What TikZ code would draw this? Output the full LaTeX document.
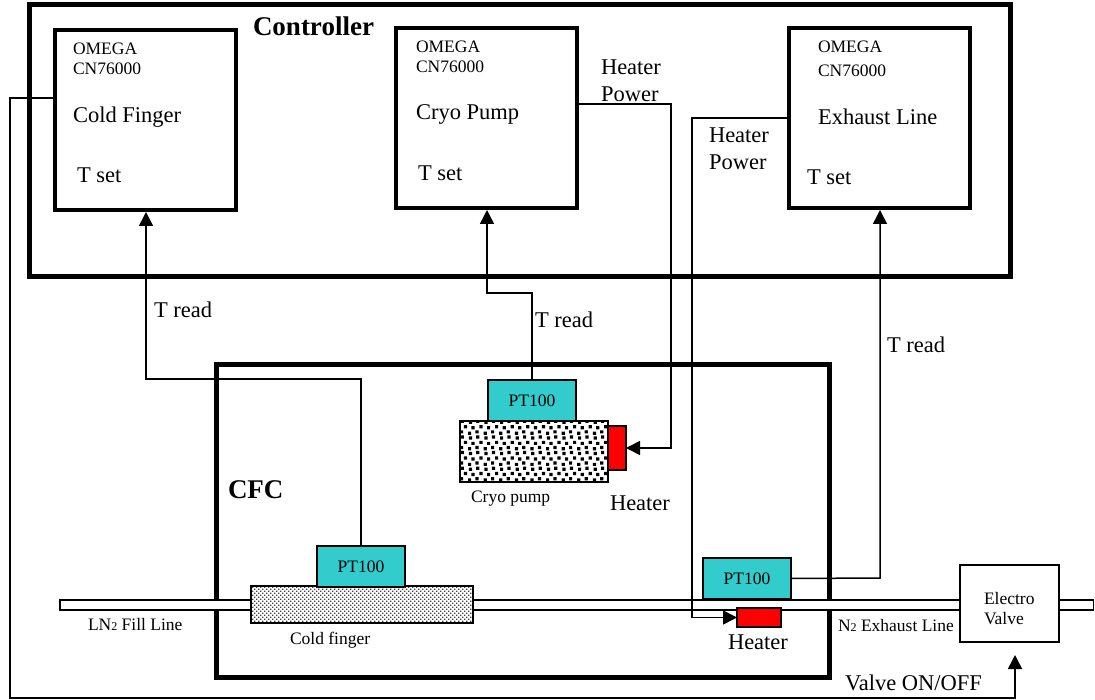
\documentclass[tikz,border=0pt]{standalone}
\usepackage{fontspec}
\setmainfont{Liberation Serif}
\usepackage{xcolor}
\usetikzlibrary{arrows.meta, positioning, calc, patterns}

\definecolor{sensorteal}{HTML}{33CCCC}

% large square dots of the cryo pump
\pgfdeclarepatternformonly{pumpdots}{\pgfqpoint{-1pt}{-1pt}}{\pgfqpoint{17pt}{17pt}}{\pgfqpoint{15.6pt}{15.6pt}}{
    \pgfpathrectangle{\pgfqpoint{0pt}{0pt}}{\pgfqpoint{3.2pt}{3.2pt}}
    \pgfpathrectangle{\pgfqpoint{7.4pt}{1.3pt}}{\pgfqpoint{3.2pt}{3.2pt}}
    \pgfpathrectangle{\pgfqpoint{3.4pt}{5.4pt}}{\pgfqpoint{3.2pt}{3.2pt}}
    \pgfpathrectangle{\pgfqpoint{11.4pt}{6.4pt}}{\pgfqpoint{3.2pt}{3.2pt}}
    \pgfpathrectangle{\pgfqpoint{0.8pt}{10.8pt}}{\pgfqpoint{3.2pt}{3.2pt}}
    \pgfpathrectangle{\pgfqpoint{8.2pt}{11.8pt}}{\pgfqpoint{3.2pt}{3.2pt}}
    \pgfusepath{fill}
}
% fine dots of the cold finger
\pgfdeclarepatternformonly{fingerdots}{\pgfqpoint{-0.5pt}{-0.5pt}}{\pgfqpoint{4.5pt}{4.5pt}}{\pgfqpoint{4pt}{4pt}}{
    \pgfpathrectangle{\pgfqpoint{0pt}{0pt}}{\pgfqpoint{1.3pt}{1.3pt}}
    \pgfpathrectangle{\pgfqpoint{2pt}{2pt}}{\pgfqpoint{1.3pt}{1.3pt}}
    \pgfusepath{fill}
}

\tikzset{
    frame/.style={draw, line width=5pt, outer sep=0pt, inner sep=0pt},
    ctrlbox/.style={draw, line width=4pt, fill=white, outer sep=0pt, inner sep=0pt, minimum width=181pt, minimum height=180pt},
    sensor/.style={draw, line width=1.5pt, fill=sensorteal, outer sep=0pt, inner sep=0pt, minimum width=88pt, minimum height=41pt, font=\fontsize{17.5}{20}\selectfont},
    heatbox/.style={draw, line width=1.5pt, fill=red, outer sep=0pt, inner sep=0pt},
    pipe/.style={draw, line width=1.5pt, fill=white, outer sep=0pt, inner sep=0pt, minimum height=10pt},
    wire/.style={line width=1.5pt},
    sig/.style={wire, -{Triangle[length=14pt,width=14pt]}},
    lab/.style={anchor=base west, inner sep=0pt, outer sep=0pt, font=\fontsize{22.5}{26}\selectfont},
    small/.style={anchor=base west, inner sep=0pt, outer sep=0pt, font=\fontsize{17.5}{20}\selectfont},
    head/.style={anchor=base west, inner sep=0pt, outer sep=0pt, font=\fontsize{27}{30}\selectfont\bfseries}
}

\begin{document}
\begin{tikzpicture}[x=1pt, y=-1pt]
    \useasboundingbox (0,0) rectangle (1095,700);

    % frames
    \node[frame, minimum width=981pt, minimum height=272pt] (controller) at (519.5,141) {};
    \node[frame, minimum width=613pt, minimum height=312pt] (cfc) at (522.5,521) {};

    % controllers
    \node[ctrlbox] (cfbox) at (145.5,120) {};
    \node[ctrlbox] (cpbox) at (486.5,118) {};
    \node[ctrlbox] (exbox) at (879.5,118) {};

    % pipes
    \node[pipe, minimum width=191pt] (fillline) at (155.5,605) {};
    \node[pipe, minimum width=487pt] (exline) at (716.5,605) {};
    \node[pipe, minimum width=34pt] (outline) at (1076.5,605) {};

    % cold finger, cryo pump
    \node[draw, line width=1.5pt, outer sep=0pt, inner sep=0pt, fill=white, minimum width=222pt, minimum height=37pt] (finger) at (362,604.5) {};
    \fill[pattern=fingerdots, pattern color=black!75] (finger.south west) rectangle (finger.north east);
    \draw[line width=1.5pt] (finger.south west) rectangle (finger.north east);
    \node[draw, line width=1.5pt, outer sep=0pt, inner sep=0pt, fill=white, minimum width=148pt, minimum height=61pt] (pump) at (534,451.5) {};
    \fill[pattern=pumpdots] (pump.south west) rectangle (pump.north east);
    \draw[line width=1.5pt] (pump.south west) rectangle (pump.north east);

    % sensors and heaters
    \node[sensor] (ptfinger) at (361,566.5) {PT100};
    \node[sensor] (ptpump) at (532,400.5) {PT100};
    \node[sensor] (ptline) at (747,578.5) {PT100};
    \node[heatbox, minimum width=18pt, minimum height=44pt] (heatpump) at (617,448) {};
    \node[heatbox, minimum width=44pt, minimum height=19pt] (heatline) at (759,617.5) {};

    % valve
    \node[draw, line width=1.5pt, fill=white, outer sep=0pt, inner sep=0pt, minimum width=99pt, minimum height=77pt] (valve) at (1009.5,603.5) {};

    % bends
    \coordinate (bendf) at (146,379);
    \coordinate (bendp) at (487,293);
    \coordinate (bendl) at (880,578);
    \coordinate (bendh) at (671,104);
    \coordinate (bendi) at (671,448);
    \coordinate (bendx) at (692,118);
    \coordinate (bendv) at (10,98);
    \coordinate (bendb) at (1015,698);
    \coordinate (valvein) at (1015,655);

    % readings
    \draw[sig] (ptfinger.north) |- (bendf) -- ($(cfbox.south)+(0.5,2)$);
    \draw[sig] (ptpump.north) |- (bendp) -- ($(cpbox.south)+(0.5,2)$);
    \draw[sig] (ptline.east) -- (bendl) -- ($(exbox.south)+(0.5,2)$);

    % heater power
    \draw[sig] (cpbox.east |- bendh) -- (bendh) -- (bendi) -- (heatpump.east);
    \draw[sig] (exbox.west |- bendx) -- (bendx) |- (heatline.west);

    % valve line
    \draw[sig] (cfbox.west |- bendv) -- (bendv) |- (bendb) -- (valvein);

    % controller texts
    \node[head] (tcontroller) at (253,36) {Controller};
    \node[small] (omegaa) at (73,55) {OMEGA};
    \node[small] (cna) at (73,75) {CN76000};
    \node[lab] (namea) at (73,123) {Cold Finger};
    \node[lab] (tseta) at (77,183) {T set};
    \node[small] (omegab) at (416,53) {OMEGA};
    \node[small] (cnb) at (416,73) {CN76000};
    \node[lab] (nameb) at (416,120) {Cryo Pump};
    \node[lab] (tsetb) at (418,181) {T set};
    \node[small] (omegac) at (818,53) {OMEGA};
    \node[small] (cnc) at (818,77) {CN76000};
    \node[lab] (namec) at (818,125) {Exhaust Line};
    \node[lab] (tsetc) at (807,185) {T set};

    % signal texts
    \node[lab] (treada) at (154,318) {T read};
    \node[lab] (treadb) at (535,328) {T read};
    \node[lab] (treadc) at (887,353) {T read};
    \node[lab] (hpa) at (601,75) {Heater};
    \node[lab] (hpb) at (601,102) {Power};
    \node[lab] (hpc) at (709,143) {Heater};
    \node[lab] (hpd) at (709,170) {Power};

    % CFC texts
    \node[head] (tcfc) at (228,498) {CFC};
    \node[small] (tpump) at (471,502) {Cryo pump};
    \node[lab] (theata) at (610,510) {Heater};
    \node[small] (tfinger) at (290,644) {Cold finger};
    \node[lab] (theatb) at (728,649) {Heater};
    \node[small] (tfill) at (88,630) {LN{\fontsize{12}{14}\selectfont 2} Fill Line};
    \node[small] (texh) at (838,631) {N{\fontsize{12}{14}\selectfont 2} Exhaust Line};
    \node[small] (telectro) at (984,604) {Electro};
    \node[small] (tvalve) at (984,624) {Valve};
    \node[lab] (tonoff) at (845,690) {Valve ON/OFF};
\end{tikzpicture}
\end{document}
